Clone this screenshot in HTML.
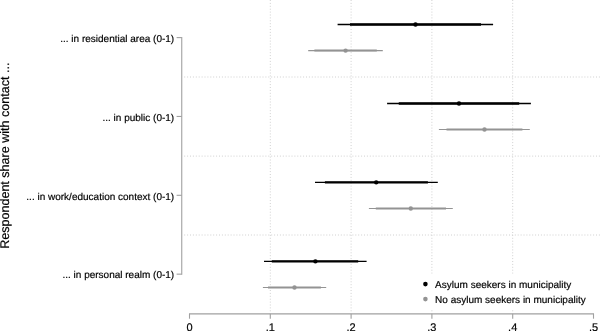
<!DOCTYPE html><html><head><meta charset="utf-8"><style>html,body{margin:0;padding:0;background:#fff;overflow:hidden}svg{display:block;will-change:transform}text{font-family:"Liberation Sans",sans-serif;text-rendering:geometricPrecision;stroke:#000;stroke-width:0.18px;paint-order:stroke}</style></head><body>
<svg width="600" height="331" viewBox="0 0 600 331">
<rect width="600" height="331" fill="#fff"/>
<line x1="270.30" y1="0" x2="270.30" y2="311.5" stroke="#d0d0d0" stroke-width="1" stroke-dasharray="1 1.9"/>
<line x1="351.10" y1="0" x2="351.10" y2="311.5" stroke="#d0d0d0" stroke-width="1" stroke-dasharray="1 1.9"/>
<line x1="431.90" y1="0" x2="431.90" y2="311.5" stroke="#d0d0d0" stroke-width="1" stroke-dasharray="1 1.9"/>
<line x1="512.70" y1="0" x2="512.70" y2="311.5" stroke="#d0d0d0" stroke-width="1" stroke-dasharray="1 1.9"/>
<line x1="184.2" y1="77.0" x2="600" y2="77.0" stroke="#d0d0d0" stroke-width="1" stroke-dasharray="1 1.9"/>
<line x1="184.2" y1="156.1" x2="600" y2="156.1" stroke="#d0d0d0" stroke-width="1" stroke-dasharray="1 1.9"/>
<line x1="184.2" y1="235.0" x2="600" y2="235.0" stroke="#d0d0d0" stroke-width="1" stroke-dasharray="1 1.9"/>
<rect x="400" y="273.8" width="200" height="35.6" fill="#fff"/>
<line x1="337.6" y1="24.45" x2="493.1" y2="24.45" stroke="#000" stroke-width="1.35"/>
<line x1="350.0" y1="24.45" x2="481.0" y2="24.45" stroke="#000" stroke-width="2.4"/>
<circle cx="415.5" cy="24.45" r="2.2" fill="#000"/>
<line x1="387.1" y1="103.45" x2="530.9" y2="103.45" stroke="#000" stroke-width="1.35"/>
<line x1="398.75" y1="103.45" x2="519.2" y2="103.45" stroke="#000" stroke-width="2.4"/>
<circle cx="459.0" cy="103.45" r="2.2" fill="#000"/>
<line x1="315.0" y1="182.35" x2="437.8" y2="182.35" stroke="#000" stroke-width="1.35"/>
<line x1="324.9" y1="182.35" x2="427.9" y2="182.35" stroke="#000" stroke-width="2.4"/>
<circle cx="376.2" cy="182.35" r="2.2" fill="#000"/>
<line x1="264.0" y1="261.35" x2="366.6" y2="261.35" stroke="#000" stroke-width="1.35"/>
<line x1="271.8" y1="261.35" x2="358.2" y2="261.35" stroke="#000" stroke-width="2.4"/>
<circle cx="315.4" cy="261.35" r="2.2" fill="#000"/>
<line x1="308.2" y1="50.60" x2="382.8" y2="50.60" stroke="#939393" stroke-width="1.2"/>
<line x1="314.4" y1="50.60" x2="376.8" y2="50.60" stroke="#939393" stroke-width="2.0"/>
<circle cx="345.6" cy="50.60" r="2.2" fill="#939393"/>
<line x1="438.9" y1="129.50" x2="529.8" y2="129.50" stroke="#939393" stroke-width="1.2"/>
<line x1="446.5" y1="129.50" x2="522.4" y2="129.50" stroke="#939393" stroke-width="2.0"/>
<circle cx="484.5" cy="129.50" r="2.2" fill="#939393"/>
<line x1="368.9" y1="208.50" x2="452.8" y2="208.50" stroke="#939393" stroke-width="1.2"/>
<line x1="375.8" y1="208.50" x2="446.0" y2="208.50" stroke="#939393" stroke-width="2.0"/>
<circle cx="410.8" cy="208.50" r="2.2" fill="#939393"/>
<line x1="262.9" y1="287.50" x2="326.2" y2="287.50" stroke="#939393" stroke-width="1.2"/>
<line x1="268.0" y1="287.50" x2="320.9" y2="287.50" stroke="#939393" stroke-width="2.0"/>
<circle cx="294.5" cy="287.50" r="2.2" fill="#939393"/>
<line x1="181.75" y1="37.1" x2="181.75" y2="274.65" stroke="#a0a0a0" stroke-width="1.1"/>
<line x1="176.6" y1="37.6" x2="181.75" y2="37.6" stroke="#a0a0a0" stroke-width="1.1"/>
<line x1="176.6" y1="116.45" x2="181.75" y2="116.45" stroke="#a0a0a0" stroke-width="1.1"/>
<line x1="176.6" y1="195.3" x2="181.75" y2="195.3" stroke="#a0a0a0" stroke-width="1.1"/>
<line x1="176.6" y1="274.15" x2="181.75" y2="274.15" stroke="#a0a0a0" stroke-width="1.1"/>
<line x1="189.0" y1="313.85" x2="594.0" y2="313.85" stroke="#a0a0a0" stroke-width="1.1"/>
<line x1="189.50" y1="313.85" x2="189.50" y2="318.7" stroke="#a0a0a0" stroke-width="1.1"/>
<line x1="270.30" y1="313.85" x2="270.30" y2="318.7" stroke="#a0a0a0" stroke-width="1.1"/>
<line x1="351.10" y1="313.85" x2="351.10" y2="318.7" stroke="#a0a0a0" stroke-width="1.1"/>
<line x1="431.90" y1="313.85" x2="431.90" y2="318.7" stroke="#a0a0a0" stroke-width="1.1"/>
<line x1="512.70" y1="313.85" x2="512.70" y2="318.7" stroke="#a0a0a0" stroke-width="1.1"/>
<line x1="593.50" y1="313.85" x2="593.50" y2="318.7" stroke="#a0a0a0" stroke-width="1.1"/>
<text x="174.2" y="41.80" font-size="10" text-anchor="end" fill="#000">... in residential area (0-1)</text>
<text x="174.2" y="120.65" font-size="10" text-anchor="end" fill="#000">... in public (0-1)</text>
<text x="174.2" y="199.50" font-size="10" text-anchor="end" fill="#000">... in work/education context (0-1)</text>
<text x="174.2" y="278.35" font-size="10" text-anchor="end" fill="#000">... in personal realm (0-1)</text>
<text x="189.50" y="331.0" font-size="11" text-anchor="middle" fill="#000">0</text>
<text x="270.30" y="331.0" font-size="11" text-anchor="middle" fill="#000">.1</text>
<text x="351.10" y="331.0" font-size="11" text-anchor="middle" fill="#000">.2</text>
<text x="431.90" y="331.0" font-size="11" text-anchor="middle" fill="#000">.3</text>
<text x="512.70" y="331.0" font-size="11" text-anchor="middle" fill="#000">.4</text>
<text x="593.50" y="331.0" font-size="11" text-anchor="middle" fill="#000">.5</text>
<text transform="translate(9.4,155.7) rotate(-90)" font-size="12.55" text-anchor="middle" fill="#000">Respondent share with contact ...</text>
<circle cx="425.4" cy="284.1" r="2.3" fill="#000"/>
<circle cx="425.4" cy="299.1" r="2.3" fill="#939393"/>
<text x="435.1" y="288.3" font-size="10" fill="#000">Asylum seekers in municipality</text>
<text x="435.1" y="303.3" font-size="10" fill="#000">No asylum seekers in municipality</text>
</svg></body></html>
